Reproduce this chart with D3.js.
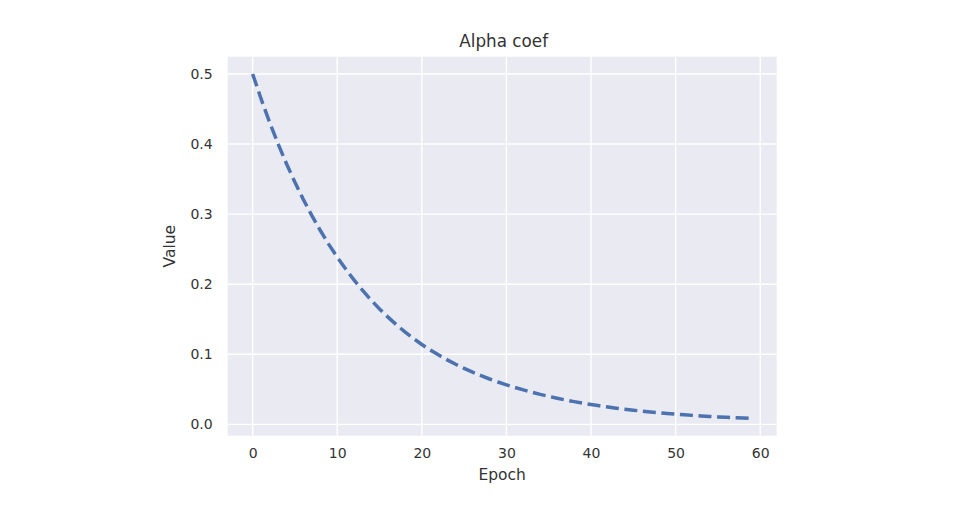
<!DOCTYPE html>
<html>
<head>
<meta charset="utf-8">
<script src="https://cdn.jsdelivr.net/npm/d3@7"></script>
<style>
  body { margin: 0; background: #fff; }
  svg { display: block; font-family: "DejaVu Sans", sans-serif; }
</style>
</head>
<body>
<svg id="chart"></svg>
<script>
const width = 970;
const height = 514;

// values, one per epoch
const epochs = d3.range(0, 60);
const alpha = [
  0.5000, 0.4643, 0.4312, 0.4005, 0.3719, 0.3454, 0.3207, 0.2979, 0.2766, 0.2569,
  0.2386, 0.2216, 0.2058, 0.1911, 0.1774, 0.1648, 0.1530, 0.1421, 0.1320, 0.1226,
  0.1140, 0.1062, 0.0989, 0.0921, 0.0858, 0.0800, 0.0745, 0.0695, 0.0648, 0.0605,
  0.0565, 0.0527, 0.0492, 0.0459, 0.0428, 0.0400, 0.0373, 0.0348, 0.0325, 0.0304,
  0.0284, 0.0265, 0.0248, 0.0232, 0.0217, 0.0203, 0.0190, 0.0178, 0.0167, 0.0156,
  0.0146, 0.0137, 0.0129, 0.0121, 0.0114, 0.0107, 0.0101, 0.0095, 0.0090, 0.0085
];
const xTicks = [0, 10, 20, 30, 40, 50, 60];
const yTicks = [0.0, 0.1, 0.2, 0.3, 0.4, 0.5];

const plot = { left: 227.7, right: 776.7, top: 56.7, bottom: 435.7 };

const x = d3.scaleLinear().domain([-2.95, 61.95]).range([plot.left, plot.right]);
const y = d3.scaleLinear().domain([-0.0161, 0.5246]).range([plot.bottom, plot.top]);

const svg = d3.select('#chart')
  .attr('width', width)
  .attr('height', height);

svg.append('rect')
  .attr('x', plot.left)
  .attr('y', plot.top)
  .attr('width', plot.right - plot.left)
  .attr('height', plot.bottom - plot.top)
  .attr('fill', '#eaeaf2');

// grid
svg.append('g')
  .selectAll('line')
  .data(xTicks)
  .enter().append('line')
  .attr('x1', d => x(d)).attr('x2', d => x(d))
  .attr('y1', plot.top).attr('y2', plot.bottom)
  .attr('stroke', '#fff').attr('stroke-width', 1.4);

svg.append('g')
  .selectAll('line')
  .data(yTicks)
  .enter().append('line')
  .attr('x1', plot.left).attr('x2', plot.right)
  .attr('y1', d => y(d)).attr('y2', d => y(d))
  .attr('stroke', '#fff').attr('stroke-width', 1.4);

// axes, no tick marks, no domain line
const xAxis = svg.append('g')
  .attr('transform', `translate(0,${plot.bottom})`)
  .call(d3.axisBottom(x).tickValues(xTicks).tickSize(0).tickPadding(12).tickFormat(d3.format('d')));

const yAxis = svg.append('g')
  .attr('transform', `translate(${plot.left},0)`)
  .call(d3.axisLeft(y).tickValues(yTicks).tickSize(0).tickPadding(15).tickFormat(d3.format('.1f')));

[xAxis, yAxis].forEach(a => {
  a.select('.domain').remove();
  a.selectAll('text')
    .attr('fill', '#333')
    .style('font-size', '14px')
    .style('font-family', '"DejaVu Sans", sans-serif');
});

const line = d3.line()
  .x((d, i) => x(epochs[i]))
  .y(d => y(d));

svg.append('path')
  .datum(alpha)
  .attr('d', line)
  .attr('fill', 'none')
  .attr('stroke', '#4c72b0')
  .attr('stroke-width', 3.5)
  .attr('stroke-dasharray', '13,5.6');

svg.append('text')
  .attr('x', (plot.left + plot.right) / 2 + 1.5)
  .attr('y', 46.5)
  .attr('text-anchor', 'middle')
  .attr('fill', '#333')
  .style('font-size', '16.8px')
  .text('Alpha coef');

svg.append('text')
  .attr('x', (plot.left + plot.right) / 2)
  .attr('y', 480)
  .attr('text-anchor', 'middle')
  .attr('fill', '#333')
  .style('font-size', '15.5px')
  .text('Epoch');

svg.append('text')
  .attr('transform', `translate(175,${(plot.top + plot.bottom) / 2}) rotate(-90)`)
  .attr('text-anchor', 'middle')
  .attr('fill', '#333')
  .style('font-size', '15.5px')
  .text('Value');
</script>
</body>
</html>
